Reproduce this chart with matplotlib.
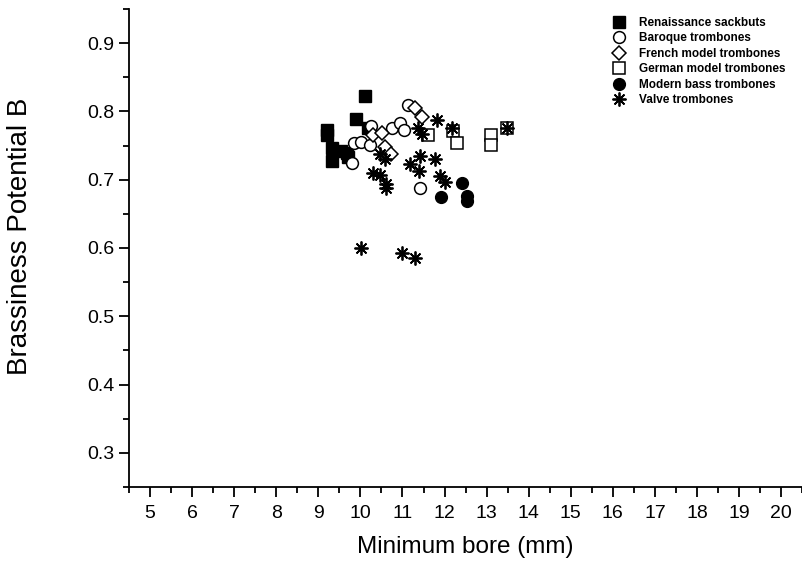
import numpy as np
import matplotlib
matplotlib.use("Agg")
import matplotlib.pyplot as plt
from matplotlib.ticker import MultipleLocator

plt.rcParams["font.family"] = ["Liberation Sans", "DejaVu Sans"]

# minimum bore (mm) and brassiness potential B per instrument group
ren_bore = [10.11, 9.89, 10.18, 9.20, 9.20, 9.32, 9.54, 9.68, 9.70, 9.32]
ren_b = [0.823, 0.789, 0.776, 0.773, 0.766, 0.747, 0.742, 0.739, 0.733, 0.727]

baroque_bore = [11.13, 10.25, 9.85, 10.01, 10.23, 9.80, 10.75, 10.94, 11.03, 11.41]
baroque_b = [0.810, 0.779, 0.754, 0.755, 0.751, 0.725, 0.776, 0.783, 0.773, 0.688]

french_bore = [10.30, 10.51, 10.58, 10.72, 11.29, 11.46]
french_b = [0.765, 0.768, 0.748, 0.738, 0.805, 0.792]

german_bore = [11.60, 12.20, 12.29, 13.10, 13.10, 13.48]
german_b = [0.766, 0.772, 0.754, 0.766, 0.751, 0.775]

bass_bore = [11.91, 12.41, 12.53, 12.53]
bass_b = [0.675, 0.695, 0.676, 0.669]

valve_bore = [10.46, 10.58, 10.30, 10.46, 10.61, 10.61, 10.01, 10.99, 11.29,
              11.37, 11.46, 11.82, 12.17, 13.48, 11.41, 11.18, 11.39, 11.77,
              11.89, 12.00]
valve_b = [0.738, 0.730, 0.710, 0.707, 0.694, 0.688, 0.600, 0.592, 0.585,
           0.775, 0.767, 0.788, 0.776, 0.775, 0.735, 0.723, 0.713, 0.730,
           0.705, 0.697]

fig = plt.figure(figsize=(8.03, 5.61), dpi=100)
ax = fig.add_axes([0.1606, 0.132, 0.8384, 0.852])

ms = 8
ax.plot(ren_bore, ren_b, ls="none", marker="s", ms=ms, mfc="black", mec="black",
        label="Renaissance sackbuts")
ax.plot(baroque_bore, baroque_b, ls="none", marker="o", ms=ms + 0.5, mfc="white",
        mec="black", mew=1.1, label="Baroque trombones")
ax.plot(french_bore, french_b, ls="none", marker="D", ms=ms - 1, mfc="white",
        mec="black", mew=1.1, label="French model trombones")
ax.plot(german_bore, german_b, ls="none", marker="s", ms=ms, mfc="white",
        mec="black", mew=1.1, label="German model trombones")
ax.plot(bass_bore, bass_b, ls="none", marker="o", ms=ms + 0.5, mfc="black",
        mec="black", label="Modern bass trombones")
ax.plot(valve_bore, valve_b, ls="none", marker=(8, 2, 0), ms=ms + 2, mec="black",
        mew=1.3, label="Valve trombones")

ax.set_xlim(4.5, 20.5)
ax.set_ylim(0.25, 0.95)
ax.xaxis.set_major_locator(MultipleLocator(1))
ax.xaxis.set_minor_locator(MultipleLocator(0.5))
ax.yaxis.set_minor_locator(MultipleLocator(0.05))
ax.tick_params(which="major", length=7, width=1.3, labelsize=14, direction="out")
ax.tick_params(which="minor", length=4, width=1.3, direction="out")
ax.tick_params(axis="x", pad=6)
yt = np.arange(0.3, 0.91, 0.1)
ax.set_yticks(yt)
ax.set_yticklabels([f"{v:.1f}" for v in yt])

for side in ("top", "right"):
    ax.spines[side].set_visible(False)
for side in ("left", "bottom"):
    ax.spines[side].set_linewidth(1.3)

ax.set_xlabel("Minimum bore (mm)", fontsize=17.5, labelpad=10)
ax.set_ylabel("Brassiness Potential B", fontsize=20)
ax.yaxis.set_label_coords(-0.143, 0.525)

ax.legend(loc="upper left", bbox_to_anchor=(0.703, 1.006), frameon=False,
          handlelength=1.0, handletextpad=1.2, labelspacing=0.3,
          prop={"weight": "bold", "size": 8.5})

fig.savefig("out.png", dpi=100)
